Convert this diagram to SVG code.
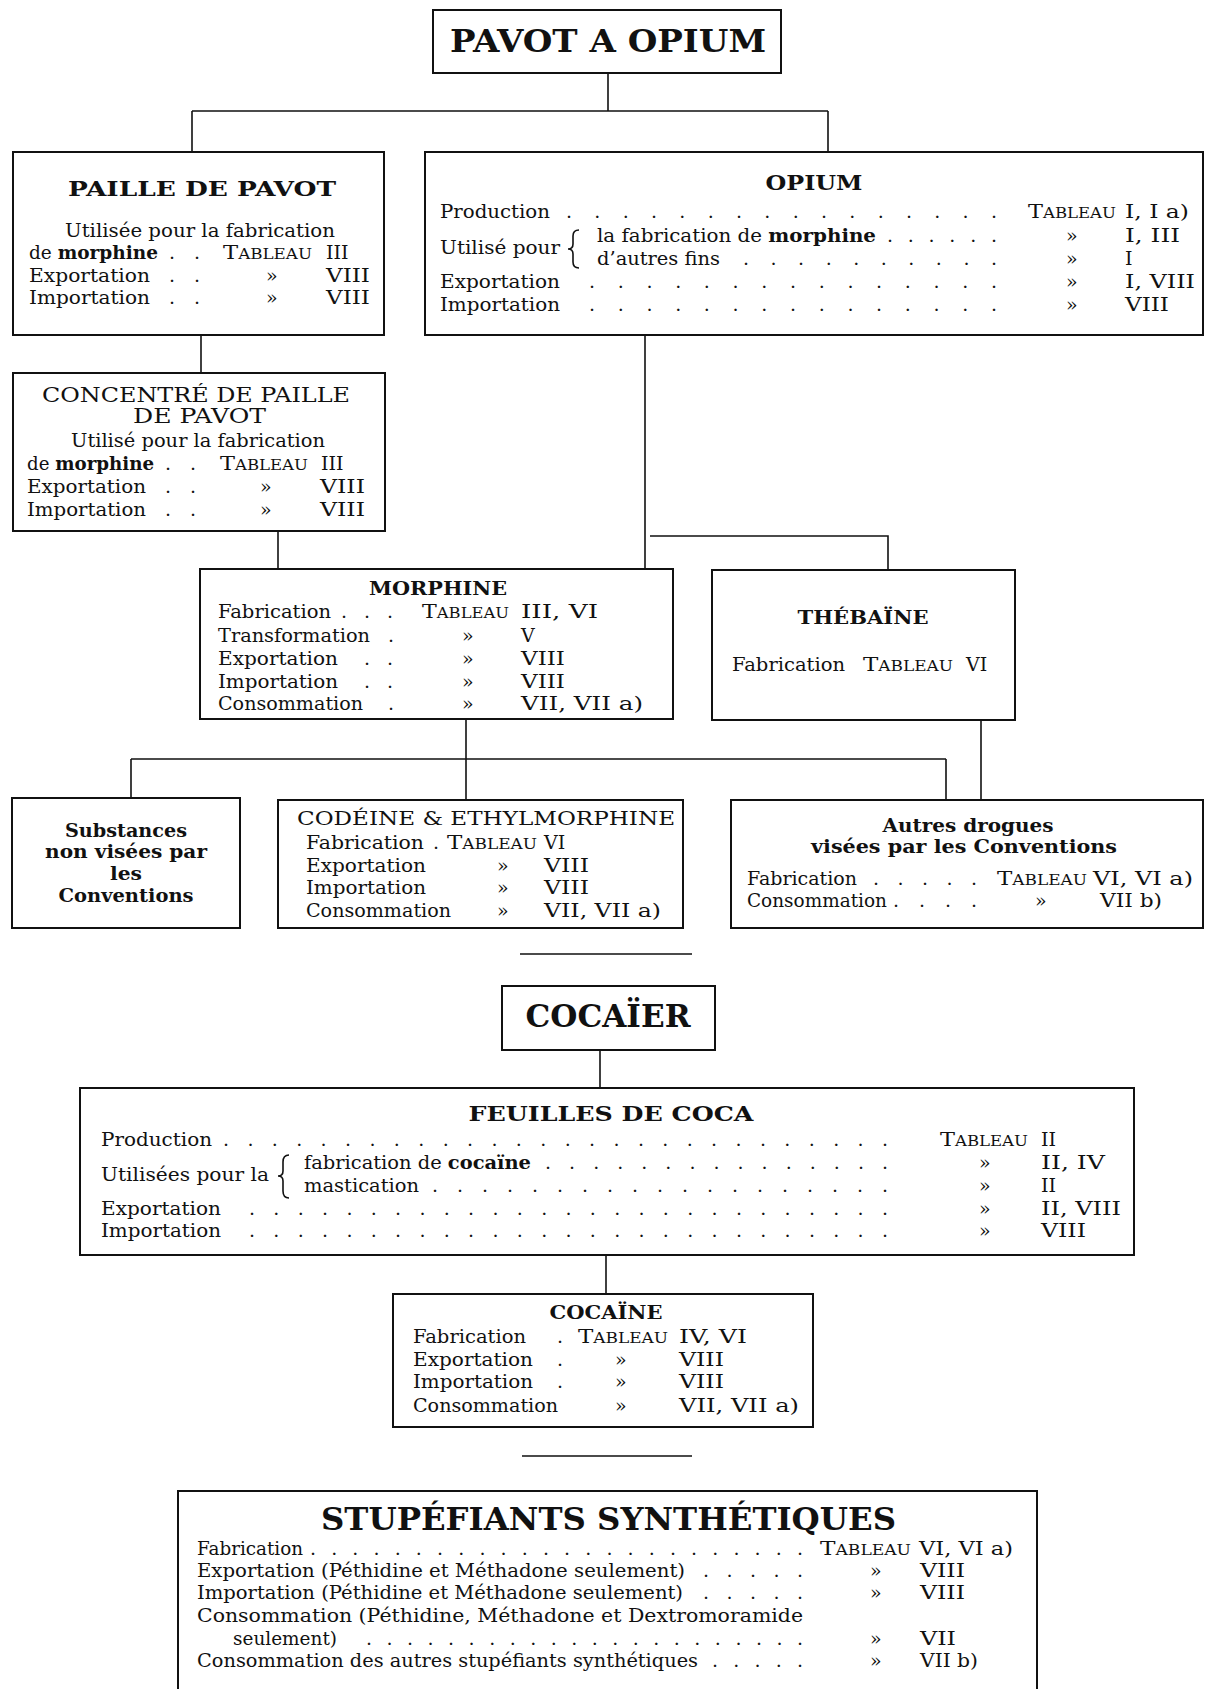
<svg xmlns="http://www.w3.org/2000/svg" width="1207" height="1689" viewBox="0 0 1207 1689">
<style>
text { font-family: "DejaVu Serif", "Liberation Serif", serif; font-size: 19px; fill: #111; }
.t { font-weight: bold; }
.cap { font-size: 20px; }
.big { font-size: 32px; font-weight: bold; }
.mid { font-size: 21px; font-weight: bold; }
.sc { font-size: 14px; }
.m { text-anchor: middle; }
.box { fill: #fff; stroke: #111; stroke-width: 2; }
.ln { stroke: #111; stroke-width: 1.6; fill: none; }
</style>
<rect width="1207" height="1689" fill="#fff"/>

<g id="connectors">
  <path class="ln" d="M608 74V111M192 111H828M192 111V152M828 111V152"/>
  <path class="ln" d="M201 336V373"/>
  <path class="ln" d="M645 336V569M650 536H888V570"/>
  <path class="ln" d="M278 531V569"/>
  <path class="ln" d="M466 720V800M131 759H946M131 759V798M946 759V800"/>
  <path class="ln" d="M981 720V800"/>
  <path class="ln" d="M600 1051V1088"/>
  <path class="ln" d="M606 1256V1294"/>
  <path class="ln" d="M520 954H692M522 1456H692"/>
</g>

<g id="pavot">
  <rect class="box" x="433" y="10" width="348" height="63"/>
  <text class="big" x="450" y="52" textLength="316" lengthAdjust="spacingAndGlyphs">PAVOT A OPIUM</text>
</g>

<g id="paille">
  <rect class="box" x="13" y="152" width="371" height="183"/>
  <text class="mid" x="68" y="196" textLength="268" lengthAdjust="spacingAndGlyphs">PAILLE DE PAVOT</text>
  <text x="65" y="237" textLength="270" lengthAdjust="spacingAndGlyphs">Utilisée pour la fabrication</text>
  <text x="29" y="259" textLength="129" lengthAdjust="spacingAndGlyphs">de <tspan class="t">morphine</tspan></text>
  <text x="169" y="259" textLength="31" lengthAdjust="spacing">. .</text>
  <text x="223" y="259" textLength="89" lengthAdjust="spacingAndGlyphs">T<tspan class="sc">ABLEAU</tspan></text>
  <text x="326" y="259">III</text>
  <text x="29" y="282" textLength="121" lengthAdjust="spacingAndGlyphs">Exportation</text>
  <text x="169" y="282" textLength="31" lengthAdjust="spacing">. .</text>
  <text x="266" y="282">»</text>
  <text x="326" y="282" textLength="44" lengthAdjust="spacingAndGlyphs">VIII</text>
  <text x="29" y="304" textLength="121" lengthAdjust="spacingAndGlyphs">Importation</text>
  <text x="169" y="304" textLength="31" lengthAdjust="spacing">. .</text>
  <text x="266" y="304">»</text>
  <text x="326" y="304" textLength="44" lengthAdjust="spacingAndGlyphs">VIII</text>
</g>

<g id="opium">
  <rect class="box" x="425" y="152" width="778" height="183"/>
  <text class="mid m" x="814" y="190" textLength="97" lengthAdjust="spacingAndGlyphs">OPIUM</text>
  <text x="440" y="218" textLength="110" lengthAdjust="spacingAndGlyphs">Production</text>
  <text x="566" y="218" textLength="431" lengthAdjust="spacing">. . . . . . . . . . . . . . . .</text>
  <text x="1028" y="218" textLength="88" lengthAdjust="spacingAndGlyphs">T<tspan class="sc">ABLEAU</tspan></text>
  <text x="1125" y="218" textLength="64" lengthAdjust="spacingAndGlyphs">I, I a)</text>
  <text x="440" y="254" textLength="120" lengthAdjust="spacingAndGlyphs">Utilisé pour</text>
  <path class="ln" d="M579 230Q573 230 573 236V244Q573 249 568 249Q573 249 573 254V262Q573 268 579 268"/>
  <text x="597" y="242" textLength="279" lengthAdjust="spacingAndGlyphs">la fabrication de <tspan class="t">morphine</tspan></text>
  <text x="887" y="242" textLength="110" lengthAdjust="spacing">. . . . . .</text>
  <text x="1066" y="242">»</text>
  <text x="1125" y="242" textLength="55" lengthAdjust="spacingAndGlyphs">I, III</text>
  <text x="597" y="265" textLength="123" lengthAdjust="spacingAndGlyphs">d’autres fins</text>
  <text x="743" y="265" textLength="254" lengthAdjust="spacing">. . . . . . . . . .</text>
  <text x="1066" y="265">»</text>
  <text x="1125" y="265">I</text>
  <text x="440" y="288" textLength="120" lengthAdjust="spacingAndGlyphs">Exportation</text>
  <text x="589" y="288" textLength="408" lengthAdjust="spacing">. . . . . . . . . . . . . . .</text>
  <text x="1066" y="288">»</text>
  <text x="1125" y="288" textLength="70" lengthAdjust="spacingAndGlyphs">I, VIII</text>
  <text x="440" y="311" textLength="120" lengthAdjust="spacingAndGlyphs">Importation</text>
  <text x="589" y="311" textLength="408" lengthAdjust="spacing">. . . . . . . . . . . . . . .</text>
  <text x="1066" y="311">»</text>
  <text x="1125" y="311" textLength="44" lengthAdjust="spacingAndGlyphs">VIII</text>
</g>

<g id="concentre">
  <rect class="box" x="13" y="373" width="372" height="158"/>
  <text class="cap" x="42" y="402" textLength="308" lengthAdjust="spacingAndGlyphs">CONCENTRÉ DE PAILLE</text>
  <text class="cap" x="133" y="423" textLength="133" lengthAdjust="spacingAndGlyphs">DE PAVOT</text>
  <text x="71" y="447" textLength="254" lengthAdjust="spacingAndGlyphs">Utilisé pour la fabrication</text>
  <text x="27" y="470" textLength="127" lengthAdjust="spacingAndGlyphs">de <tspan class="t">morphine</tspan></text>
  <text x="165" y="470" textLength="31" lengthAdjust="spacing">. .</text>
  <text x="220" y="470" textLength="88" lengthAdjust="spacingAndGlyphs">T<tspan class="sc">ABLEAU</tspan></text>
  <text x="321" y="470">III</text>
  <text x="27" y="493" textLength="119" lengthAdjust="spacingAndGlyphs">Exportation</text>
  <text x="165" y="493" textLength="31" lengthAdjust="spacing">. .</text>
  <text x="260" y="493">»</text>
  <text x="320" y="493" textLength="45" lengthAdjust="spacingAndGlyphs">VIII</text>
  <text x="27" y="516" textLength="119" lengthAdjust="spacingAndGlyphs">Importation</text>
  <text x="165" y="516" textLength="31" lengthAdjust="spacing">. .</text>
  <text x="260" y="516">»</text>
  <text x="320" y="516" textLength="45" lengthAdjust="spacingAndGlyphs">VIII</text>
</g>

<g id="morphine">
  <rect class="box" x="200" y="569" width="473" height="150"/>
  <text class="t m" x="438" y="595" textLength="138" lengthAdjust="spacingAndGlyphs">MORPHINE</text>
  <text x="218" y="618" textLength="113" lengthAdjust="spacingAndGlyphs">Fabrication</text>
  <text x="341" y="618" textLength="52" lengthAdjust="spacing">. . .</text>
  <text x="422" y="618" textLength="87" lengthAdjust="spacingAndGlyphs">T<tspan class="sc">ABLEAU</tspan></text>
  <text x="521" y="618" textLength="77" lengthAdjust="spacingAndGlyphs">III, VI</text>
  <text x="218" y="642" textLength="152" lengthAdjust="spacingAndGlyphs">Transformation</text>
  <text x="388" y="642">.</text>
  <text x="462" y="642">»</text>
  <text x="521" y="642">V</text>
  <text x="218" y="665" textLength="120" lengthAdjust="spacingAndGlyphs">Exportation</text>
  <text x="364" y="665" textLength="29" lengthAdjust="spacing">. .</text>
  <text x="462" y="665">»</text>
  <text x="521" y="665" textLength="44" lengthAdjust="spacingAndGlyphs">VIII</text>
  <text x="218" y="688" textLength="120" lengthAdjust="spacingAndGlyphs">Importation</text>
  <text x="364" y="688" textLength="29" lengthAdjust="spacing">. .</text>
  <text x="462" y="688">»</text>
  <text x="521" y="688" textLength="44" lengthAdjust="spacingAndGlyphs">VIII</text>
  <text x="218" y="710" textLength="145" lengthAdjust="spacingAndGlyphs">Consommation</text>
  <text x="388" y="710">.</text>
  <text x="462" y="710">»</text>
  <text x="521" y="710" textLength="122" lengthAdjust="spacingAndGlyphs">VII, VII a)</text>
</g>

<g id="thebaine">
  <rect class="box" x="712" y="570" width="303" height="150"/>
  <text class="t m" x="863" y="624" textLength="131" lengthAdjust="spacingAndGlyphs">THÉBAÏNE</text>
  <text x="732" y="671" textLength="113" lengthAdjust="spacingAndGlyphs">Fabrication</text>
  <text x="863" y="671" textLength="90" lengthAdjust="spacingAndGlyphs">T<tspan class="sc">ABLEAU</tspan></text>
  <text x="966" y="671">VI</text>
</g>

<g id="substances">
  <rect class="box" x="12" y="798" width="228" height="130"/>
  <text class="t m" x="126" y="837" textLength="122" lengthAdjust="spacingAndGlyphs">Substances</text>
  <text class="t m" x="126" y="858" textLength="162" lengthAdjust="spacingAndGlyphs">non visées par</text>
  <text class="t m" x="126" y="880" textLength="32" lengthAdjust="spacingAndGlyphs">les</text>
  <text class="t m" x="126" y="902" textLength="135" lengthAdjust="spacingAndGlyphs">Conventions</text>
</g>

<g id="codeine">
  <rect class="box" x="278" y="800" width="405" height="128"/>
  <text x="297" y="825" textLength="378" lengthAdjust="spacingAndGlyphs">CODÉINE &amp; ETHYLMORPHINE</text>
  <text x="306" y="849" textLength="118" lengthAdjust="spacingAndGlyphs">Fabrication</text>
  <text x="433" y="849">.</text>
  <text x="447" y="849" textLength="90" lengthAdjust="spacingAndGlyphs">T<tspan class="sc">ABLEAU</tspan></text>
  <text x="544" y="849">VI</text>
  <text x="306" y="872" textLength="120" lengthAdjust="spacingAndGlyphs">Exportation</text>
  <text x="497" y="872">»</text>
  <text x="544" y="872" textLength="45" lengthAdjust="spacingAndGlyphs">VIII</text>
  <text x="306" y="894" textLength="120" lengthAdjust="spacingAndGlyphs">Importation</text>
  <text x="497" y="894">»</text>
  <text x="544" y="894" textLength="45" lengthAdjust="spacingAndGlyphs">VIII</text>
  <text x="306" y="917" textLength="145" lengthAdjust="spacingAndGlyphs">Consommation</text>
  <text x="497" y="917">»</text>
  <text x="544" y="917" textLength="117" lengthAdjust="spacingAndGlyphs">VII, VII a)</text>
</g>

<g id="autres">
  <rect class="box" x="731" y="800" width="472" height="128"/>
  <text class="t m" x="968" y="832" textLength="171" lengthAdjust="spacingAndGlyphs">Autres drogues</text>
  <text class="t m" x="964" y="853" textLength="306" lengthAdjust="spacingAndGlyphs">visées par les Conventions</text>
  <text x="747" y="885" textLength="110" lengthAdjust="spacingAndGlyphs">Fabrication</text>
  <text x="873" y="885" textLength="104" lengthAdjust="spacing">. . . . .</text>
  <text x="997" y="885" textLength="90" lengthAdjust="spacingAndGlyphs">T<tspan class="sc">ABLEAU</tspan></text>
  <text x="1093" y="885" textLength="100" lengthAdjust="spacingAndGlyphs">VI, VI a)</text>
  <text x="747" y="907" textLength="140" lengthAdjust="spacingAndGlyphs">Consommation</text>
  <text x="893" y="907" textLength="84" lengthAdjust="spacing">. . . .</text>
  <text x="1035" y="907">»</text>
  <text x="1100" y="907" textLength="62" lengthAdjust="spacingAndGlyphs">VII b)</text>
</g>

<g id="cocaier">
  <rect class="box" x="502" y="986" width="213" height="64"/>
  <text class="big m" x="608" y="1027" textLength="165" lengthAdjust="spacingAndGlyphs">COCAÏER</text>
</g>

<g id="feuilles">
  <rect class="box" x="80" y="1088" width="1054" height="167"/>
  <text class="mid m" x="611" y="1121" textLength="285" lengthAdjust="spacingAndGlyphs">FEUILLES DE COCA</text>
  <text x="101" y="1146" textLength="111" lengthAdjust="spacingAndGlyphs">Production</text>
  <text x="223" y="1146" textLength="665" lengthAdjust="spacing">. . . . . . . . . . . . . . . . . . . . . . . . . . . .</text>
  <text x="940" y="1146" textLength="88" lengthAdjust="spacingAndGlyphs">T<tspan class="sc">ABLEAU</tspan></text>
  <text x="1041" y="1146">II</text>
  <text x="101" y="1181" textLength="168" lengthAdjust="spacingAndGlyphs">Utilisées pour la</text>
  <path class="ln" d="M289 1155Q283 1155 283 1162V1171Q283 1176 278 1176Q283 1176 283 1181V1191Q283 1198 289 1198"/>
  <text x="304" y="1169" textLength="227" lengthAdjust="spacingAndGlyphs">fabrication de <tspan class="t">cocaïne</tspan></text>
  <text x="545" y="1169" textLength="343" lengthAdjust="spacing">. . . . . . . . . . . . . . .</text>
  <text x="979" y="1169">»</text>
  <text x="1041" y="1169" textLength="64" lengthAdjust="spacingAndGlyphs">II, IV</text>
  <text x="304" y="1192" textLength="115" lengthAdjust="spacingAndGlyphs">mastication</text>
  <text x="432" y="1192" textLength="456" lengthAdjust="spacing">. . . . . . . . . . . . . . . . . . .</text>
  <text x="979" y="1192">»</text>
  <text x="1041" y="1192">II</text>
  <text x="101" y="1215" textLength="120" lengthAdjust="spacingAndGlyphs">Exportation</text>
  <text x="249" y="1215" textLength="639" lengthAdjust="spacing">. . . . . . . . . . . . . . . . . . . . . . . . . . .</text>
  <text x="979" y="1215">»</text>
  <text x="1041" y="1215" textLength="80" lengthAdjust="spacingAndGlyphs">II, VIII</text>
  <text x="101" y="1237" textLength="120" lengthAdjust="spacingAndGlyphs">Importation</text>
  <text x="249" y="1237" textLength="639" lengthAdjust="spacing">. . . . . . . . . . . . . . . . . . . . . . . . . . .</text>
  <text x="979" y="1237">»</text>
  <text x="1041" y="1237" textLength="45" lengthAdjust="spacingAndGlyphs">VIII</text>
</g>

<g id="cocaine">
  <rect class="box" x="393" y="1294" width="420" height="133"/>
  <text class="t m" x="606" y="1319" textLength="113" lengthAdjust="spacingAndGlyphs">COCAÏNE</text>
  <text x="413" y="1343" textLength="113" lengthAdjust="spacingAndGlyphs">Fabrication</text>
  <text x="557" y="1343">.</text>
  <text x="578" y="1343" textLength="90" lengthAdjust="spacingAndGlyphs">T<tspan class="sc">ABLEAU</tspan></text>
  <text x="679" y="1343" textLength="68" lengthAdjust="spacingAndGlyphs">IV, VI</text>
  <text x="413" y="1366" textLength="120" lengthAdjust="spacingAndGlyphs">Exportation</text>
  <text x="557" y="1366">.</text>
  <text x="615" y="1366">»</text>
  <text x="679" y="1366" textLength="45" lengthAdjust="spacingAndGlyphs">VIII</text>
  <text x="413" y="1388" textLength="120" lengthAdjust="spacingAndGlyphs">Importation</text>
  <text x="557" y="1388">.</text>
  <text x="615" y="1388">»</text>
  <text x="679" y="1388" textLength="45" lengthAdjust="spacingAndGlyphs">VIII</text>
  <text x="413" y="1412" textLength="145" lengthAdjust="spacingAndGlyphs">Consommation</text>
  <text x="615" y="1412">»</text>
  <text x="679" y="1412" textLength="120" lengthAdjust="spacingAndGlyphs">VII, VII a)</text>
</g>

<g id="synthetiques">
  <rect class="box" x="178" y="1491" width="859" height="220"/>
  <text class="big" x="321" y="1530" textLength="575" lengthAdjust="spacingAndGlyphs">STUPÉFIANTS SYNTHÉTIQUES</text>
  <text x="197" y="1555" textLength="106" lengthAdjust="spacingAndGlyphs">Fabrication</text>
  <text x="310" y="1555" textLength="493" lengthAdjust="spacing">. . . . . . . . . . . . . . . . . . . . . . . .</text>
  <text x="820" y="1555" textLength="91" lengthAdjust="spacingAndGlyphs">T<tspan class="sc">ABLEAU</tspan></text>
  <text x="919" y="1555" textLength="94" lengthAdjust="spacingAndGlyphs">VI, VI a)</text>
  <text x="197" y="1577" textLength="488" lengthAdjust="spacingAndGlyphs">Exportation (Péthidine et Méthadone seulement)</text>
  <text x="703" y="1577" textLength="100" lengthAdjust="spacing">. . . . .</text>
  <text x="870" y="1577">»</text>
  <text x="920" y="1577" textLength="45" lengthAdjust="spacingAndGlyphs">VIII</text>
  <text x="197" y="1599" textLength="486" lengthAdjust="spacingAndGlyphs">Importation (Péthidine et Méthadone seulement)</text>
  <text x="703" y="1599" textLength="100" lengthAdjust="spacing">. . . . .</text>
  <text x="870" y="1599">»</text>
  <text x="920" y="1599" textLength="45" lengthAdjust="spacingAndGlyphs">VIII</text>
  <text x="197" y="1622" textLength="606" lengthAdjust="spacingAndGlyphs">Consommation (Péthidine, Méthadone et Dextromoramide</text>
  <text x="233" y="1645" textLength="104" lengthAdjust="spacingAndGlyphs">seulement)</text>
  <text x="366" y="1645" textLength="437" lengthAdjust="spacing">. . . . . . . . . . . . . . . . . . . . . .</text>
  <text x="870" y="1645">»</text>
  <text x="920" y="1645" textLength="36" lengthAdjust="spacingAndGlyphs">VII</text>
  <text x="197" y="1667" textLength="501" lengthAdjust="spacingAndGlyphs">Consommation des autres stupéfiants synthétiques</text>
  <text x="712" y="1667" textLength="91" lengthAdjust="spacing">. . . . .</text>
  <text x="870" y="1667">»</text>
  <text x="920" y="1667" textLength="58" lengthAdjust="spacingAndGlyphs">VII b)</text>
</g>
</svg>
